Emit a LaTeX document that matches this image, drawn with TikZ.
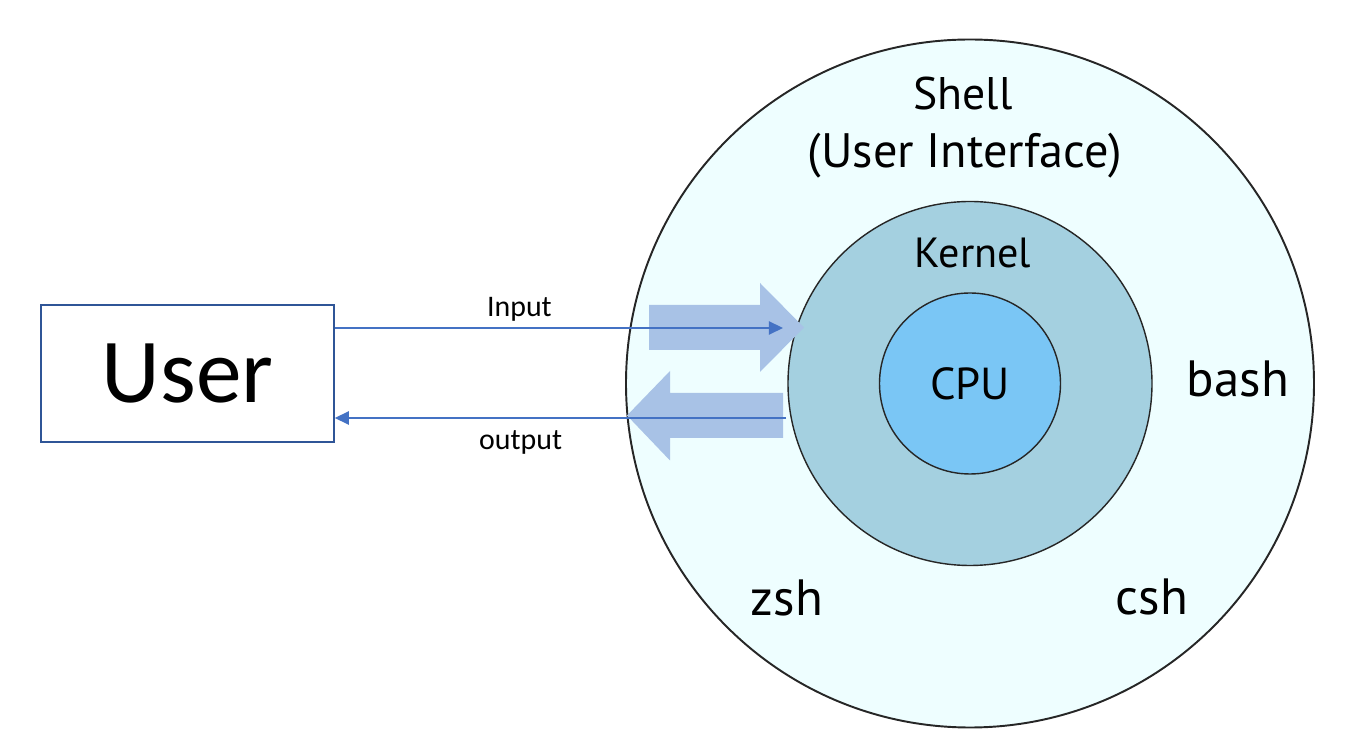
\documentclass[tikz,border=0pt]{standalone}
\usepackage{fontspec}
\setmainfont{Carlito}
\newfontfamily\ringfont{PT Sans}
\usetikzlibrary{arrows.meta, positioning}
\definecolor{shell-cyan}{RGB}{238,254,255}
\definecolor{kernel-blue}{RGB}{164,208,224}
\definecolor{cpu-blue}{RGB}{122,198,245}
\definecolor{flow-blue}{RGB}{168,194,230}
\definecolor{link-blue}{RGB}{68,114,196}
\definecolor{box-blue}{RGB}{47,85,151}

\begin{document}
\begin{tikzpicture}[
    ring/.style={circle, draw=black!85, line width=0.8pt, inner sep=0pt},
    ringlabel/.style={anchor=base, inner sep=0pt, font=\ringfont\fontsize{26}{30}\selectfont},
    shname/.style={anchor=base, inner sep=0pt, font=\ringfont\fontsize{29}{34}\selectfont},
    flow/.style={fill=flow-blue, draw=none},
    arrow/.style={-{Triangle[length=8pt, width=7.5pt]}, draw=link-blue, line width=0.85pt},
    flowlabel/.style={anchor=base, inner sep=0pt, font=\fontsize{17}{20}\selectfont}
]
\useasboundingbox (0,0) rectangle (27.38,-14.82);

% the three rings
\node[ring, fill=shell-cyan, minimum size=13.76cm, line width=1.1pt] (shell) at (19.40,-7.67) {};
\node[ring, fill=kernel-blue, minimum size=7.28cm] (kernel) at (shell.center) {};
\node[ring, fill=cpu-blue, minimum size=3.62cm, font=\ringfont\fontsize{25.5}{30}\selectfont] (cpu) at (shell.center) {CPU};

\node[ringlabel] (shelltitle) at (19.26,-2.20) {Shell};
\node[ringlabel, font=\ringfont\fontsize{27.5}{32}\selectfont] (shellsub) at (19.30,-3.36) {(User Interface)};
\node[ringlabel, font=\ringfont\fontsize{24}{28}\selectfont] (kerneltitle) at (19.46,-5.36) {Kernel};
\node[shname] (bash) at (24.76,-7.94) {bash};
\node[shname] (csh) at (23.04,-12.30) {csh};
\node[shname] (zsh) at (15.74,-12.32) {zsh};

% user box
\node[draw=box-blue, line width=0.85pt, minimum width=5.86cm, minimum height=2.74cm, font=\fontsize{52}{60}\selectfont] (user) at (3.75,-7.47) {User};

% wide flow arrows
\fill[flow] (12.98,-6.10) -- (15.20,-6.10) -- (15.20,-5.66) -- (16.08,-6.55) -- (15.20,-7.44) -- (15.20,-7.00) -- (12.98,-7.00) -- cycle;
\fill[flow] (15.66,-7.86) -- (13.40,-7.86) -- (13.40,-7.42) -- (12.54,-8.31) -- (13.40,-9.21) -- (13.40,-8.76) -- (15.66,-8.76) -- cycle;

% input / output
\coordinate (in-end) at (15.66,-6.56);
\coordinate (out-start) at (15.72,-8.36);
\draw[arrow] (user.east |- in-end) -- node[flowlabel, pos=0.412, yshift=0.22cm] (inputlbl) {Input} (in-end);
\draw[arrow] (out-start) -- node[flowlabel, pos=0.588, yshift=-0.64cm] (outputlbl) {output} (user.east |- out-start);

\end{tikzpicture}
\end{document}
